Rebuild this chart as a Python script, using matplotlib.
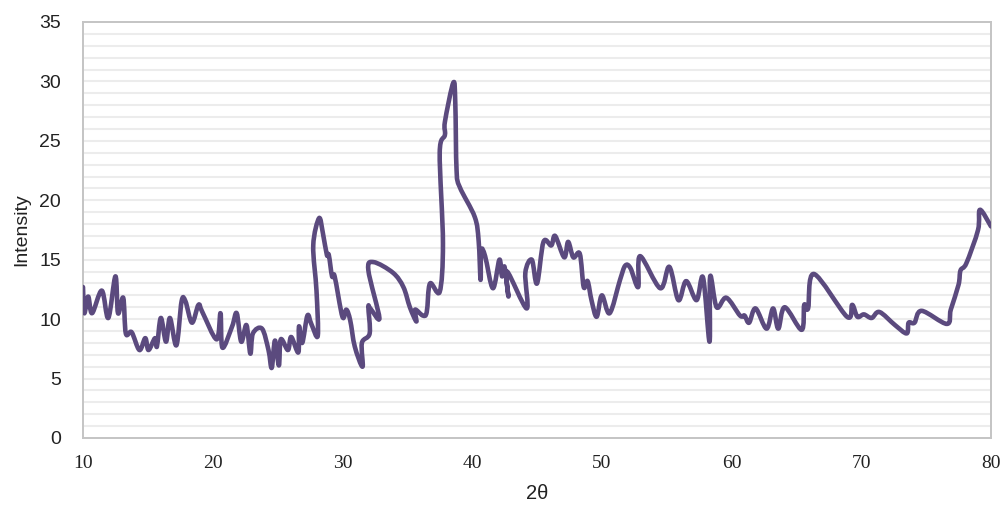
import matplotlib
matplotlib.use("Agg")
import matplotlib.pyplot as plt
from matplotlib.path import Path
from matplotlib.patches import PathPatch
import numpy as np

two_theta = [10.0, 10.1, 10.4, 10.7, 11.45, 11.95, 12.5, 12.7, 13.1, 13.3, 13.75, 14.35, 14.8, 15.05,
             15.55, 15.7, 16.0, 16.4, 16.7, 17.2, 17.6, 17.9, 18.4, 18.9, 19.2, 20.3, 20.6, 20.75,
             21.5, 21.85, 22.2, 22.6, 22.9, 23.1, 23.8, 24.3, 24.55, 24.8, 25.1, 25.25, 25.8, 26.05,
             26.6, 26.65, 26.9, 27.3, 27.6, 28.1, 28.0, 27.75, 28.2, 28.5, 28.8, 28.95, 29.2, 29.4,
             30.0, 30.3, 30.6, 30.95, 31.55, 31.5, 32.1, 32.0, 32.15, 32.85, 32.0, 32.4, 33.9, 34.7,
             35.2, 35.7, 35.6, 36.2, 36.5, 36.75, 37.5, 37.75, 37.5, 37.9, 37.9, 38.55, 38.7, 38.8,
             39.05, 40.2, 40.5, 40.65, 40.7, 41.0, 41.6, 42.1, 42.3, 42.5, 42.8, 42.7, 44.2, 44.1,
             44.6, 45.0, 45.5, 46.1, 46.4, 47.1, 47.4, 47.8, 48.3, 48.6, 48.9, 49.2, 49.6, 50.0,
             50.6, 51.4, 51.8, 52.2, 52.8, 52.95, 54.5, 55.2, 55.9, 56.5, 57.3, 57.8, 58.3, 58.35,
             58.85, 59.6, 60.65, 61.0, 61.35, 61.85, 62.7, 63.2, 63.6, 64.1, 65.4, 65.6, 65.9, 66.35,
             68.9, 69.3, 69.7, 70.2, 70.8, 71.4, 72.6, 73.5, 73.65, 74.1, 74.65, 76.6, 76.9, 77.5,
             77.65, 78.1, 79.0, 79.15, 80.0]
intensity = [12.7, 10.5, 11.9, 10.5, 12.4, 10.1, 13.6, 10.5, 11.8, 8.8, 8.9, 7.4, 8.4, 7.4,
             8.4, 7.7, 10.1, 8.1, 10.1, 7.8, 11.5, 11.5, 9.7, 11.2, 10.6, 8.3, 10.5, 7.6,
             9.4, 10.5, 8.1, 9.5, 7.1, 8.8, 9.2, 7.4, 5.9, 8.2, 6.1, 8.3, 7.4, 8.5,
             7.2, 9.4, 8.0, 10.3, 9.6, 8.6, 12.4, 16.2, 18.5, 17.2, 15.4, 15.4, 13.6, 13.6,
             10.2, 10.8, 9.9, 7.7, 6.0, 8.0, 8.8, 11.0, 10.9, 10.1, 14.1, 14.8, 13.9, 12.7,
             11.0, 9.8, 10.8, 10.3, 10.6, 13.0, 12.3, 16.4, 24.0, 25.5, 26.6, 29.9, 28.2, 22.5,
             21.1, 18.6, 16.6, 13.3, 15.8, 15.3, 12.6, 15.0, 13.6, 14.4, 11.9, 14.0, 10.9, 13.9,
             15.0, 13.0, 16.5, 16.2, 17.0, 15.2, 16.5, 15.2, 15.5, 12.7, 13.2, 11.6, 10.2, 12.0,
             10.5, 13.3, 14.5, 14.3, 12.7, 15.3, 12.6, 14.4, 11.6, 13.2, 11.6, 13.5, 8.1, 13.6,
             11.0, 11.8, 10.3, 10.3, 9.7, 10.9, 9.2, 10.9, 9.2, 11.0, 9.1, 11.2, 10.9, 13.8,
             10.2, 11.2, 10.2, 10.4, 10.1, 10.6, 9.5, 8.8, 9.7, 9.7, 10.7, 9.6, 10.8, 12.9,
             14.1, 14.7, 17.5, 19.2, 17.8]

x_ticks = [10, 20, 30, 40, 50, 60, 70, 80]
y_ticks = [0, 5, 10, 15, 20, 25, 30, 35]

fig = plt.figure(figsize=(10.03, 5.08), dpi=100)
ax = fig.add_axes([83/1003, (508-438)/508, (991-83)/1003, (438-22)/508])

for yv in np.arange(1, 35, 1):
    ax.axhline(yv, color='#ececec', lw=1.5, zorder=0)

ax.set_xlim(10, 80)
ax.set_ylim(0, 35)

# smoothed line (Excel-style Bezier through the read points), drawn in display space
pts = ax.transData.transform(np.column_stack([two_theta, intensity]))
n = len(pts)
verts = [pts[0]]
codes = [Path.MOVETO]
t = 1.0 / 6.0
for i in range(n - 1):
    p0 = pts[i - 1] if i > 0 else pts[i]
    p1 = pts[i]
    p2 = pts[i + 1]
    p3 = pts[i + 2] if i + 2 < n else pts[i + 1]
    c1 = p1 + (p2 - p0) * t
    c2 = p2 - (p3 - p1) * t
    verts += [c1, c2, p2]
    codes += [Path.CURVE4] * 3
path = Path(np.array(verts), codes)
patch = PathPatch(path, facecolor='none', edgecolor='#5b4a7e', lw=3.3,
                  joinstyle='round', capstyle='round', transform=None, zorder=3)
ax.add_patch(patch)

ax.set_xticks(x_ticks)
ax.set_yticks(y_ticks)
ax.set_xticklabels([str(v) for v in x_ticks], family='Liberation Serif', fontsize=14)
ax.set_yticklabels([str(v) for v in y_ticks], family='Liberation Sans', fontsize=14)
ax.tick_params(length=0, colors='#222222')
ax.tick_params(axis='x', pad=12)
ax.tick_params(axis='y', pad=16)
for s in ax.spines.values():
    s.set_color('#c4c4c4')
    s.set_linewidth(1.4)

ax.set_xlabel('2θ', family='Liberation Sans', fontsize=14.5, labelpad=9, color='#222222')
ax.set_ylabel('Intensity', family='Liberation Sans', fontsize=14, labelpad=6, color='#222222')

fig.savefig('out.png', dpi=100)
